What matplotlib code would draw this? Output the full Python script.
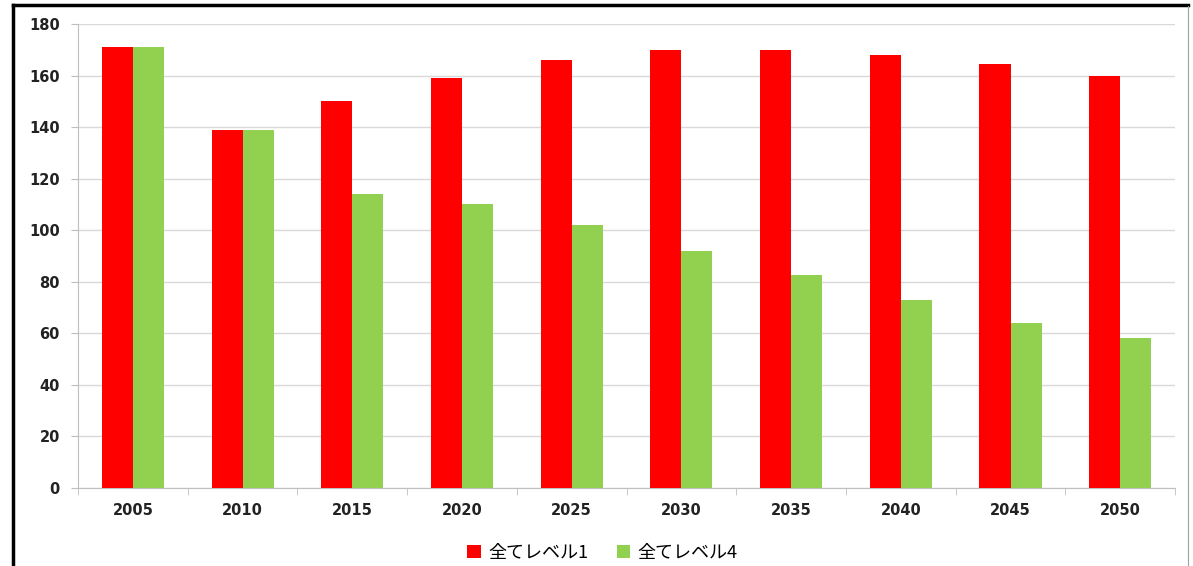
import numpy as np
import matplotlib
matplotlib.use('Agg')
import matplotlib.pyplot as plt
from matplotlib.lines import Line2D

plt.rcParams['font.family'] = ['Noto Sans CJK JP', 'DejaVu Sans']

years = ['2005', '2010', '2015', '2020', '2025', '2030', '2035', '2040', '2045', '2050']
level1 = [171, 139, 150, 159, 166, 170, 170, 168, 164.5, 160]
level4 = [171, 139, 114, 110, 102, 92, 82.5, 73, 64, 58]
labels = ['全てレベル1', '全てレベル4']

fig = plt.figure(figsize=(11.93, 5.66), dpi=100)
ax = fig.add_axes([0.0654, 0.1378, 0.9196, 0.8198])

x = np.arange(len(years))
w = 0.283
ax.bar(x - w / 2, level1, w, color='#ff0000', label=labels[0], zorder=3)
ax.bar(x + w / 2, level4, w, color='#92d050', label=labels[1], zorder=3)

ax.set_xlim(-0.5, len(years) - 0.5)
ax.set_ylim(0, 180)
ax.set_yticks(range(0, 181, 20))
ax.set_xticks(x)
ax.set_xticklabels(years)
ax.set_xticks(np.arange(-0.5, len(years), 1), minor=True)
ax.tick_params(axis='x', which='major', length=0, pad=11)
ax.tick_params(axis='x', which='minor', length=5, color='#bfbfbf', direction='out')
ax.tick_params(axis='y', length=5, color='#bfbfbf', pad=8)
for t in ax.get_xticklabels() + ax.get_yticklabels():
    t.set_fontfamily('DejaVu Sans')
    t.set_fontweight('bold')
    t.set_fontsize(10.5)
    t.set_color('#222222')

ax.grid(axis='y', color='#d9d9d9', linewidth=1, zorder=0)
for s in ['top', 'right']:
    ax.spines[s].set_visible(False)
ax.spines['left'].set_color('#bfbfbf')
ax.spines['bottom'].set_color('#bfbfbf')

ax.legend(loc='upper center', bbox_to_anchor=(0.478, -0.085), ncol=2, frameon=False,
          prop={'size': 13}, handlelength=0.75, handleheight=0.75,
          columnspacing=1.6, handletextpad=0.4)

# outer frame: black top and left, thin gray right
fig.add_artist(Line2D([0.0105, 0.996], [0.991, 0.991], transform=fig.transFigure,
                      color='black', linewidth=2.5))
fig.add_artist(Line2D([0.0105, 0.0105], [0.0, 0.991], transform=fig.transFigure,
                      color='black', linewidth=2.5))
fig.add_artist(Line2D([0.996, 0.996], [0.0, 0.99], transform=fig.transFigure,
                      color='#a0a0a0', linewidth=0.8))

fig.savefig('out.png', dpi=100)
